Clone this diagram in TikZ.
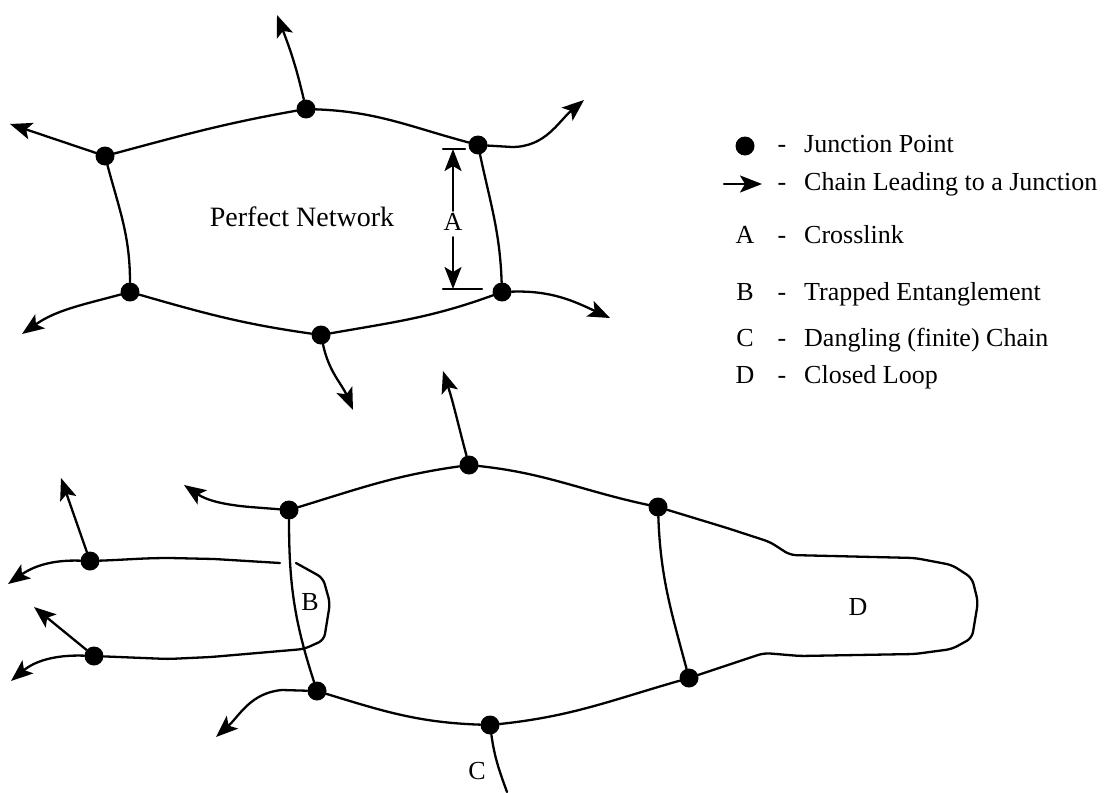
\documentclass[tikz,border=0pt]{standalone}
\usepackage{fontspec}
\setmainfont{Liberation Serif}
\usetikzlibrary{arrows.meta}

\tikzset{
  strand/.style={line width=2.3pt, line cap=round, line join=round},
  strandtip/.style={strand, -{Stealth[length=22pt,width=17pt,inset=5pt]}},
  junction/.style={circle, fill=black, inner sep=0pt, minimum size=19pt},
  tag/.style={inner sep=1pt, text height=18pt, text depth=6pt, font=\fontsize{26}{30}\selectfont}
}

\begin{document}
\begin{tikzpicture}[x=1pt,y=1pt]
\useasboundingbox (0,0) rectangle (1113,-792);

% perfect network
\node[junction] (tn) at (306,-109) {};
\node[junction] (tl) at (105,-156) {};
\node[junction] (tr) at (478,-145) {};
\node[junction] (bl) at (130,-292) {};
\node[junction] (bm) at (321,-335) {};
\node[junction] (br) at (502,-292) {};
\draw[strand] (tl) to[out=15,in=190] (tn) to[out=-2,in=165] (tr) to[out=-78,in=92] (br)
  to[out=200,in=10] (bm) to[out=172,in=-16] (bl) to[out=90,in=-75] (tl);

\coordinate (tna) at (277,-15);
\coordinate (tla) at (10,-124);
\coordinate (tra) at (584,-100);
\coordinate (bla) at (22,-334);
\coordinate (bma) at (353,-410);
\coordinate (bra) at (610,-318);
\draw[strandtip] (tn) to[out=103,in=-69] (tna);
\draw[strandtip] (tl) -- (tla);
\draw[strandtip] (tr) -- (512,-147) to[out=0,in=-140] (tra);
\draw[strandtip] (bl) to[out=195,in=35] (bla);
\draw[strandtip] (bm) to[out=-78,in=113] (bma);
\draw[strandtip] (br) to[out=2,in=155] (bra);

\node[tag, font=\fontsize{28}{32}\selectfont] (perfect) at (302,-220) {Perfect Network};

% crosslink spacing
\node[tag] (A) at (453,-224) {A};
\coordinate (atop) at (453,-149);
\coordinate (abot) at (453,-289);
\draw[strand] (443,-149) -- (465,-149);
\draw[strand] (443,-289) -- (482,-289);
\draw[strandtip] (A) -- (atop);
\draw[strandtip] (A) -- (abot);

% defective network
\node[junction] (b1) at (469,-465) {};
\node[junction] (b2) at (658,-507) {};
\node[junction] (b3) at (289,-510) {};
\node[junction] (b4) at (317,-691) {};
\node[junction] (b5) at (490,-725) {};
\node[junction] (b6) at (689,-678) {};
\node[junction] (l1) at (90,-561) {};
\node[junction] (l2) at (94,-656) {};

\draw[strand] (b3) to[out=17,in=188] (b1) to[out=-6,in=168] (b2);
\draw[strand] (b4) to[out=-17,in=178] (b5) to[out=6,in=196] (b6);
\draw[strand] (b2) to[out=-88,in=105] (b6);
\draw[strand] (b3) to[out=-90,in=108] (b4);

% closed loop
\draw[strand, rounded corners=6pt] (b2) -- (727,-528) -- (770,-542) -- (790,-555) -- (915,-558)
  -- (952,-565) -- (972,-578) -- (978,-602) -- (972,-638) -- (952,-649) -- (915,-654)
  -- (800,-656) -- (764,-653) -- (b6);
\node[tag] (D) at (858,-609) {D};

% trapped entanglement
\coordinate (gapl) at (280,-563);
\coordinate (gapr) at (296,-563);
\draw[strand] (l1) to[out=2,in=180] (170,-558) -- (214,-559) -- (gapl);
\draw[strand, rounded corners=6pt] (gapr) -- (323,-578) -- (330,-603) -- (324,-640) -- (304,-649)
  -- (211,-657) -- (168,-659) -- (l2);
\node[tag] (B) at (310,-604) {B};

\coordinate (b1a) at (443,-371);
\coordinate (b3a) at (184,-485);
\coordinate (l1a) at (61,-478);
\coordinate (l1b) at (8,-584);
\coordinate (l2a) at (34,-607);
\coordinate (l2b) at (11,-681);
\coordinate (b4a) at (216,-737);
\coordinate (cend) at (507,-792);
\draw[strandtip] (b1) to[out=105,in=-72] (b1a);
\draw[strandtip] (b3) -- (250,-507) to[out=175,in=-34] (b3a);
\draw[strandtip] (l1) -- (l1a);
\draw[strandtip] (l1) to[out=178,in=35] (l1b);
\draw[strandtip] (l2) -- (l2a);
\draw[strandtip] (l2) to[out=178,in=40] (l2b);
\draw[strandtip] (b4) -- (282,-690) to[out=185,in=42] (b4a);
\draw[strand] (b5) to[out=-82,in=110] (cend);
\node[tag] (C) at (477,-773) {C};

% key
\node[junction] (keydot) at (745,-146) {};
\coordinate (keya) at (724,-184);
\coordinate (keyb) at (762,-184);
\draw[strandtip] (keya) -- (keyb);
\node[tag] (keyA) at (745,-237) {A};
\node[tag] (keyB) at (745,-294) {B};
\node[tag] (keyC) at (745,-340) {C};
\node[tag] (keyD) at (745,-377) {D};
\node[tag] (dash1) at (782,-146) {-};
\node[tag] (dash2) at (782,-184) {-};
\node[tag] (dash3) at (782,-237) {-};
\node[tag] (dash4) at (782,-294) {-};
\node[tag] (dash5) at (782,-340) {-};
\node[tag] (dash6) at (782,-377) {-};
\node[tag, anchor=west] (key1) at (803,-146) {Junction Point};
\node[tag, anchor=west] (key2) at (803,-184) {Chain Leading to a Junction};
\node[tag, anchor=west] (key3) at (803,-237) {Crosslink};
\node[tag, anchor=west] (key4) at (803,-294) {Trapped Entanglement};
\node[tag, anchor=west] (key5) at (803,-340) {Dangling (finite) Chain};
\node[tag, anchor=west] (key6) at (803,-377) {Closed Loop};
\end{tikzpicture}
\end{document}
